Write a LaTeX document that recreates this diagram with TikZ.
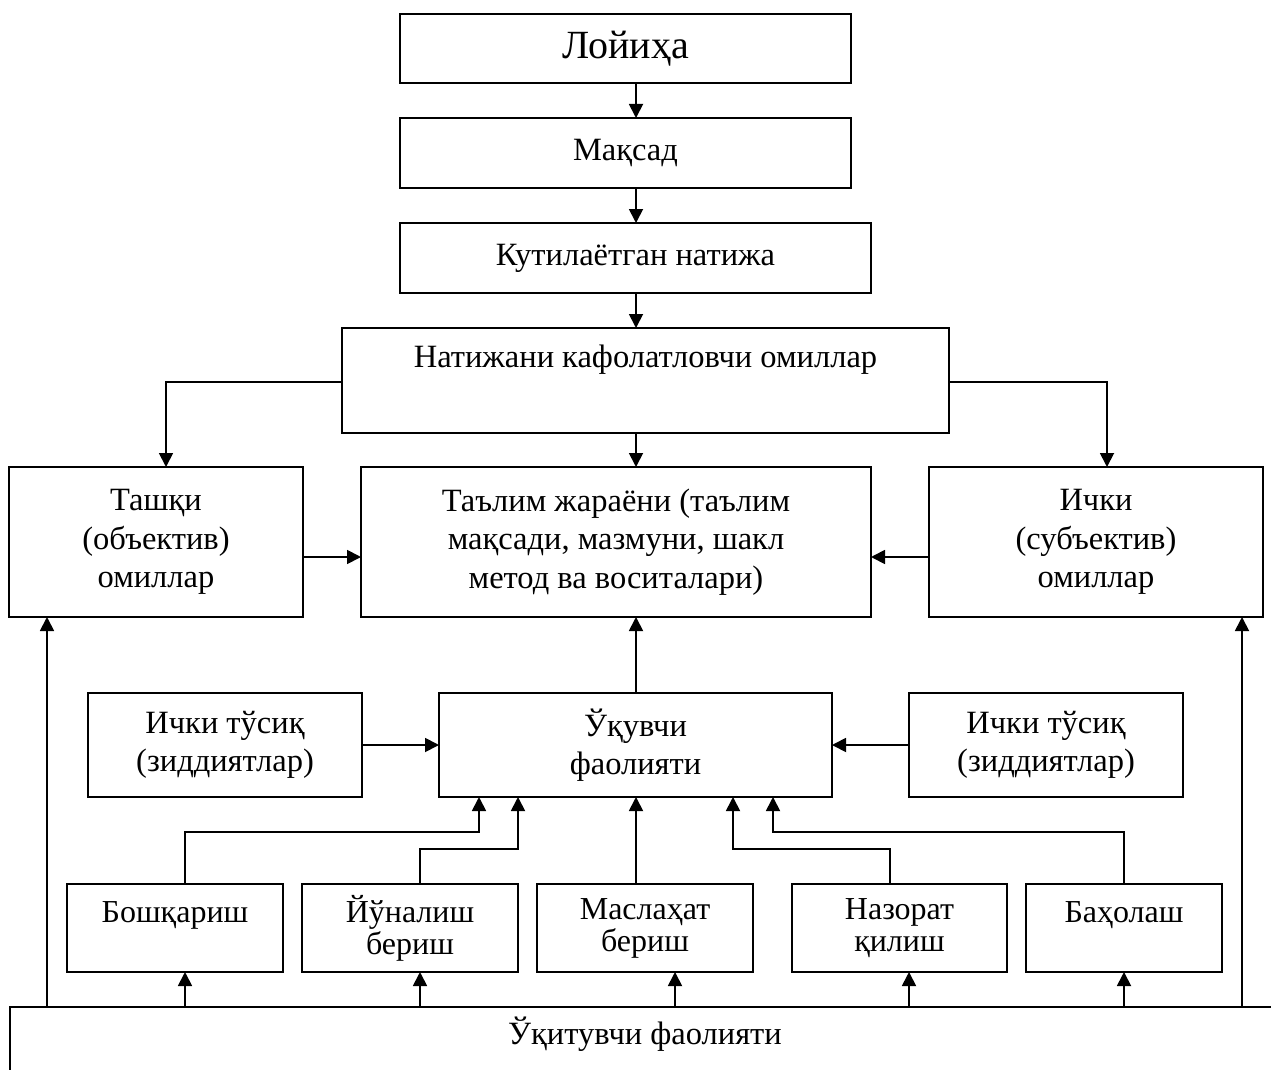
\documentclass[tikz,border=0pt]{standalone}
\usepackage{fontspec}
\setmainfont{Liberation Serif}
\usetikzlibrary{arrows.meta}
\newcommand\bxn[7]{\node[#6, minimum width={#4-#2}, minimum height={#5-#3}] (#1) at ({(#2+#4)/2},{(#3+#5)/2}) {#7};}
\begin{document}
\begin{tikzpicture}[x=1pt,y=-1pt,
  box/.style={draw, line width=1.8pt, inner sep=0pt, outer sep=0pt, align=center, font=\fontsize{32.5}{38.5}\selectfont},
  sbox/.style={box, font=\fontsize{32}{32}\selectfont},
  tbox/.style={box, font=\fontsize{40}{48}\selectfont},
  txt/.style={inner sep=0pt, align=center, font=\fontsize{32.5}{38.5}\selectfont},
  arr/.style={line width=1.8pt, -{Triangle[length=14pt,width=14pt]}},
  ln/.style={line width=1.8pt}]
\useasboundingbox (0,0) rectangle (1271,1070);
% top chain
\bxn{lo}{400}{14}{851}{83}{tbox}{Лойиҳа}
\bxn{mak}{400}{118}{851}{188}{box}{Мақсад}
\bxn{kut}{400}{223}{871}{293}{box}{Кутилаётган натижа}
\bxn{nat}{342}{328}{949}{433}{box}{}
\node[txt] (natt) at (645.5,360) {Натижани кафолатловчи омиллар};
% middle row
\bxn{ta}{9}{467}{303}{617}{box}{Ташқи\\(объектив)\\омиллар}
\bxn{tal}{361}{467}{871}{617}{box}{Таълим жараёни (таълим\\мақсади, мазмуни, шакл\\метод ва воситалари)}
\bxn{ich}{929}{467}{1263}{617}{box}{Ички\\(субъектив)\\омиллар}
% pupil row
\bxn{it1}{88}{693}{362}{797}{box}{Ички тўсиқ\\(зиддиятлар)}
\bxn{uq}{439}{693}{832}{797}{box}{Ўқувчи\\фаолияти}
\bxn{it2}{909}{693}{1183}{797}{box}{Ички тўсиқ\\(зиддиятлар)}
% bottom boxes
\bxn{b1}{67}{884}{283}{972}{sbox}{Бошқариш\\\mbox{}}
\bxn{b2}{302}{884}{518}{972}{sbox}{Йўналиш\\бериш}
\bxn{b3}{537}{884}{753}{972}{sbox}{Маслаҳат\\бериш}
\bxn{b4}{792}{884}{1007}{972}{sbox}{Назорат\\қилиш}
\bxn{b5}{1026}{884}{1222}{972}{sbox}{Баҳолаш\\\mbox{}}
% teacher box (extends past the page)
\node[box, anchor=north west, minimum width=1320pt, minimum height=120pt] (uqt) at (10,1007) {};
\node[txt] (uqtt) at (645,1034) {Ўқитувчи фаолияти};
% coordinates
\coordinate (xa) at (636,0);
\coordinate (xl) at (166,382);
\coordinate (xr) at (1107,382);
\coordinate (ym) at (0,557);
\coordinate (yu) at (0,745);
\coordinate (p1) at (185,832); \coordinate (q1) at (479,832);
\coordinate (p2) at (420,849); \coordinate (q2) at (518,849);
\coordinate (p4) at (890,849); \coordinate (q4) at (733,849);
\coordinate (p5) at (1124,832); \coordinate (q5) at (773,832);
\coordinate (p3) at (675,0);
\coordinate (p4b) at (909,0);
\coordinate (L1) at (47,0);
\coordinate (L2) at (1242,0);
% connectors
\draw[arr] (lo.south -| xa) -- (mak.north -| xa);
\draw[arr] (mak.south -| xa) -- (kut.north -| xa);
\draw[arr] (kut.south -| xa) -- (nat.north -| xa);
\draw[arr] (nat.south -| xa) -- (tal.north -| xa);
\draw[arr] (nat.west |- xl) -| (ta.north -| xl);
\draw[arr] (nat.east |- xr) -| (ich.north -| xr);
\draw[arr] (ta.east |- ym) -- (tal.west |- ym);
\draw[arr] (ich.west |- ym) -- (tal.east |- ym);
\draw[arr] (uq.north -| xa) -- (tal.south -| xa);
\draw[arr] (it1.east |- yu) -- (uq.west |- yu);
\draw[arr] (it2.west |- yu) -- (uq.east |- yu);
\draw[arr] (b1.north -| p1) |- (q1) -- (uq.south -| q1);
\draw[arr] (b2.north -| p2) |- (q2) -- (uq.south -| q2);
\draw[arr] (b3.north -| xa) -- (uq.south -| xa);
\draw[arr] (b4.north -| p4) |- (q4) -- (uq.south -| q4);
\draw[arr] (b5.north -| p5) |- (q5) -- (uq.south -| q5);
\draw[arr] (uqt.north -| p1) -- (b1.south -| p1);
\draw[arr] (uqt.north -| p2) -- (b2.south -| p2);
\draw[arr] (uqt.north -| p3) -- (b3.south -| p3);
\draw[arr] (uqt.north -| p4b) -- (b4.south -| p4b);
\draw[arr] (uqt.north -| p5) -- (b5.south -| p5);
\draw[arr] (uqt.north -| L1) -- (ta.south -| L1);
\draw[arr] (uqt.north -| L2) -- (ich.south -| L2);
\end{tikzpicture}
\end{document}
